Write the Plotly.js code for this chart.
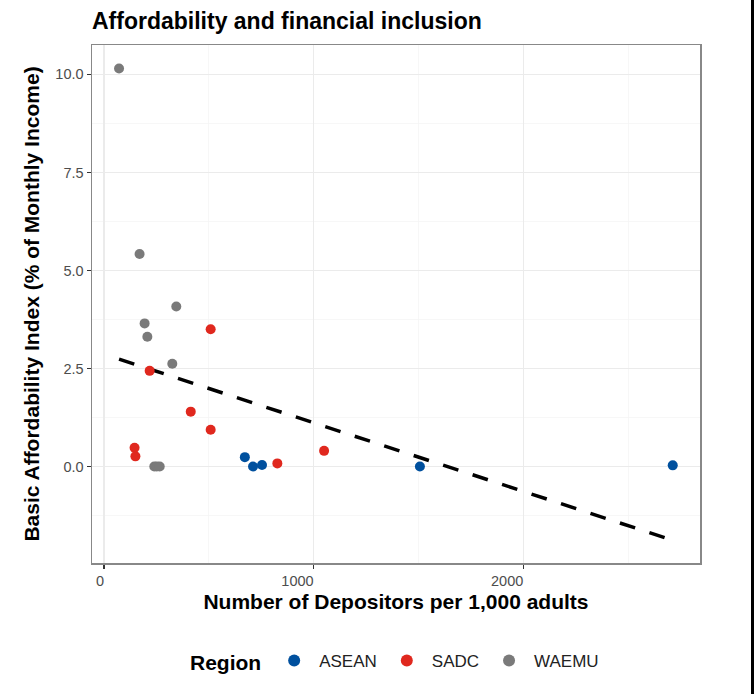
<!DOCTYPE html>
<html>
<head>
<meta charset="utf-8">
<script src="https://cdn.plot.ly/plotly-3.0.1.min.js"></script>
<style>html,body{margin:0;padding:0;background:#fff;}#chart{width:756px;height:694px;}</style>
</head>
<body>
<div id="chart"></div>
<script>
// Data
const regions = ["ASEAN", "SADC", "WAEMU"];
const regionColors = ["#00509E", "#E0281E", "#7A7A7A"];

const aseanX = [672, 711, 754, 1507, 2713];
const aseanY = [0.24, 0.00, 0.04, 0.00, 0.03];

const sadcX = [509, 218, 414, 509, 146, 150, 827, 1050];
const sadcY = [3.50, 2.44, 1.40, 0.94, 0.48, 0.26, 0.08, 0.40];

const waemuX = [72, 170, 345, 194, 207, 326, 240, 252, 266];
const waemuY = [10.15, 5.42, 4.08, 3.65, 3.31, 2.62, 0.00, 0.00, 0.00];

const trendX = [72, 2713];
const trendY = [2.74, -1.88];

const xTicks = [0, 1000, 2000];
const xTickLabels = ["0", "1000", "2000"];
const yTicks = [0, 2.5, 5, 7.5, 10];
const yTickLabels = ["0.0", "2.5", "5.0", "7.5", "10.0"];

const FONT = "Liberation Sans, Arial, Helvetica, sans-serif";

const seriesX = [aseanX, sadcX, waemuX];
const seriesY = [aseanY, sadcY, waemuY];

// x tick labels are right-aligned to their ticks in the reference:
// pad with non-breaking spaces (each ~half a digit wide)
const xTickText = xTickLabels.map(s => s + "\u00A0".repeat(s.length * 2));

const traces = [];
traces.push({
  x: trendX, y: trendY, mode: "lines", type: "scatter",
  line: {color: "#000000", width: 3.5, dash: "16px,15px"},
  showlegend: false, hoverinfo: "skip"
});
regions.forEach((r, i) => {
  traces.push({
    x: seriesX[i], y: seriesY[i], mode: "markers", type: "scatter", name: r,
    marker: {color: regionColors[i], size: 10, line: {width: 0}}
  });
});

const layout = {
  width: 756, height: 694,
  paper_bgcolor: "#ffffff", plot_bgcolor: "#ffffff",
  margin: {l: 92, r: 56, t: 45, b: 131},
  font: {family: FONT, color: "#000"},
  title: {
    text: "<b>Affordability and financial inclusion</b>",
    font: {family: FONT, size: 23, color: "#000"},
    x: 92/756, xanchor: "left", y: 1 - 21/694, yanchor: "middle"
  },
  xaxis: {
    range: [-57, 2843], tickvals: xTicks, ticktext: xTickText,
    ticks: "outside", ticklen: 4, tickwidth: 1.2, tickcolor: "#333333",
    tickfont: {family: FONT, size: 14.5, color: "#4D4D4D"},
    showgrid: true, gridcolor: "#EBEBEB", gridwidth: 1.3,
    minor: {tickvals: [500, 1500, 2500], showgrid: true, gridcolor: "#F4F4F4", gridwidth: 0.7, ticks: ""},
    zeroline: false, showline: true, linecolor: "#888888", linewidth: 1.5, mirror: true,
    title: {text: "<b>Number of Depositors per 1,000 adults</b>", font: {family: FONT, size: 21, color: "#000"}, standoff: 6}
  },
  yaxis: {
    range: [-2.46, 10.75], tickvals: yTicks, ticktext: yTickLabels,
    ticks: "outside", ticklen: 4, tickwidth: 1.2, tickcolor: "#333333",
    tickfont: {family: FONT, size: 14.5, color: "#4D4D4D"},
    showgrid: true, gridcolor: "#EBEBEB", gridwidth: 1.3,
    minor: {tickvals: [-1.25, 1.25, 3.75, 6.25, 8.75], showgrid: true, gridcolor: "#F4F4F4", gridwidth: 0.7, ticks: ""},
    zeroline: false, showline: true, linecolor: "#888888", linewidth: 1.5, mirror: true,
    title: {text: "<b>Basic Affordability Index (% of Monthly Income)</b>", font: {family: FONT, size: 21, color: "#000"}, standoff: 10}
  },
  legend: {
    orientation: "h", x: 0.5, xanchor: "center", y: -0.191, yanchor: "middle",
    title: {text: "<b>Region</b>", font: {family: FONT, size: 21, color: "#000"}, side: "left"},
    font: {family: FONT, size: 17, color: "#222"},
    itemwidth: 40,
    itemsizing: "constant"
  },
  shapes: [{
    type: "line", xref: "paper", yref: "paper",
    x0: (752.5-92)/608, x1: (752.5-92)/608, y0: -131/518, y1: 1 + 45/518,
    line: {color: "#000", width: 3}
  }],
  showlegend: true
};

Plotly.newPlot("chart", traces, layout, {displayModeBar: false, staticPlot: true});
</script>
</body>
</html>
